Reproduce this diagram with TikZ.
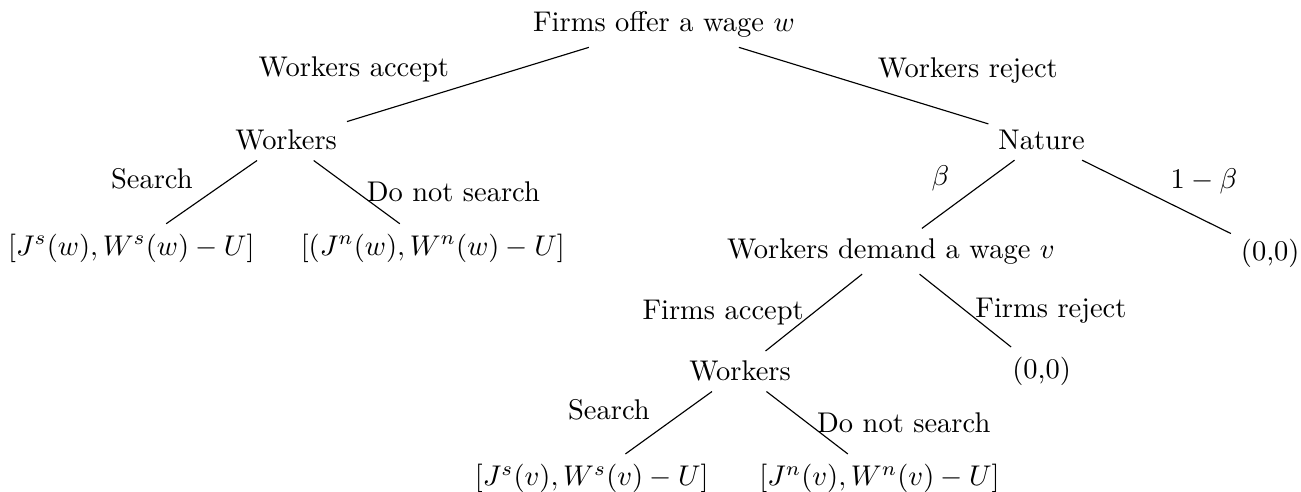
\documentclass[tikz,border=0pt]{standalone}
\usepackage{amsmath,amssymb}
\usepackage{tikz}
\tikzset{
  gamenode/.style={inner sep=0.333em},
  payoff/.style={inner sep=0.333em},
  branch/.style={draw=black, line width=0.4pt},
  movelabel/.style={inner sep=0.333em},
  upleft/.style={movelabel, midway, above left, xshift=-0.11cm, yshift=-0.09cm},
  upright/.style={movelabel, midway, above right, xshift=0.05cm, yshift=-0.09cm},
  sideright/.style={movelabel, midway, right}
}

\begin{document}
\begin{tikzpicture}
  \useasboundingbox (0,0) rectangle (16.05,-6.06);
  % decision nodes
  \node[gamenode] (firm) at (8.19,-0.30) {Firms offer a wage $w$};
  \node[gamenode] (wkA) at (3.53,-1.73) {Workers};
  \node[gamenode] (nat) at (12.85,-1.73) {Nature};
  \node[gamenode] (dem) at (10.99,-3.10) {Workers demand a wage $v$};
  \node[gamenode] (wkB) at (9.13,-4.58) {Workers};
  % payoffs
  \node[payoff] (paySw) at (1.62,-3.06) {$[J^s(w),W^s(w)-U]$};
  \node[payoff] (payNw) at (5.34,-3.06) {$[(J^n(w),W^n(w)-U]$};
  \node[payoff] (zeroA) at (15.67,-3.12) {(0,0)};
  \node[payoff] (zeroB) at (12.85,-4.58) {(0,0)};
  \node[payoff] (paySv) at (7.30,-5.90) {$[J^s(v),W^s(v)-U]$};
  \node[payoff] (payNv) at (10.85,-5.90) {$[J^n(v),W^n(v)-U]$};
  % branches
  \draw[branch] (firm) -- (wkA) node[upleft] (accW) {Workers accept};
  \draw[branch] (firm) -- (nat) node[upright] (rejW) {Workers reject};
  \draw[branch] (wkA) -- (paySw) node[upleft] (srchA) {Search};
  \draw[branch] (wkA) -- (payNw) node[sideright] (nosrchA) {Do not search};
  \draw[branch] (nat) -- (dem) node[upleft] (prob) {$\beta$};
  \draw[branch] (nat) -- (zeroA) node[upright] (probc) {$1-\beta$};
  \draw[branch] (dem) -- (wkB) node[movelabel,midway,left] (accF) {Firms accept};
  \draw[branch] (dem) -- (zeroB) node[sideright] (rejF) {Firms reject};
  \draw[branch] (wkB) -- (paySv) node[upleft] (srchB) {Search};
  \draw[branch] (wkB) -- (payNv) node[sideright] (nosrchB) {Do not search};
\end{tikzpicture}
\end{document}
